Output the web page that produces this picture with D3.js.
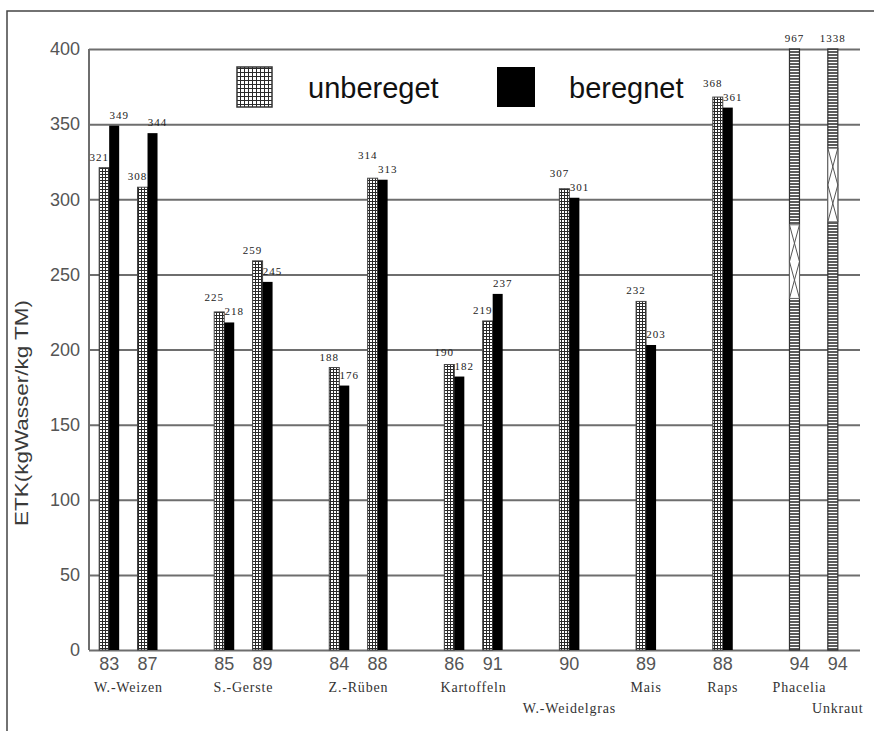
<!DOCTYPE html>
<html>
<head>
<meta charset="utf-8">
<script src="https://cdn.jsdelivr.net/npm/d3@7"></script>
<style>
  body { margin: 0; background: #fff; }
</style>
</head>
<body>
<div class="chart"></div>
<script>
// one entry per bar pair (year of trial + crop)
const years = ["83", "87", "85", "89", "84", "88", "86", "91", "90", "89", "88", "94", "94"];
const crops = ["W.-Weizen", "W.-Weizen", "S.-Gerste", "S.-Gerste", "Z.-Rüben", "Z.-Rüben",
  "Kartoffeln", "Kartoffeln", "W.-Weidelgras", "Mais", "Raps", "Phacelia", "Unkraut"];
const unberegnet = [321, 308, 225, 259, 188, 314, 190, 219, 307, 232, 368, 967, 1338];
const beregnet = [349, 344, 218, 245, 176, 313, 182, 237, 301, 203, 361, null, null];
const yTicks = [0, 50, 100, 150, 200, 250, 300, 350, 400];
const seriesNames = ["unbereget", "beregnet"];

const W = 874, H = 731;
const plot = { left: 89, right: 860, top: 49, bottom: 650 };
const yMax = 400;
// axis break drawn inside the bars that go off the scale
const breaks = { "Phacelia": [234, 283], "Unkraut": [285, 334] };

const svg = d3.select('.chart')
  .append('svg')
  .attr('width', W)
  .attr('height', H)
  .style('font-family', '"Liberation Sans", Arial, sans-serif');

const defs = svg.append('defs');

function gridPattern(id, cell) {
  const p = defs.append('pattern')
    .attr('id', id)
    .attr('patternUnits', 'userSpaceOnUse')
    .attr('width', cell).attr('height', cell);
  p.append('rect').attr('width', cell).attr('height', cell).attr('fill', '#fff');
  p.append('path')
    .attr('d', `M0,0.5H${cell}M0.5,0V${cell}`)
    .attr('stroke', '#2a2a2a').attr('stroke-width', 1);
}
gridPattern('grid', 3);
gridPattern('gridBig', 4);

const ladder = defs.append('pattern')
  .attr('id', 'ladder')
  .attr('patternUnits', 'userSpaceOnUse')
  .attr('width', 10).attr('height', 3);
ladder.append('rect').attr('width', 10).attr('height', 3).attr('fill', '#fff');
ladder.append('path').attr('d', 'M0,1H10').attr('stroke', '#333').attr('stroke-width', 1.6);

// outer frame (only top and left visible)
svg.append('path')
  .attr('d', `M7,${H}V11H${W}`)
  .attr('fill', 'none')
  .attr('stroke', '#444')
  .attr('stroke-width', 1.5);

const yScale = d3.scaleLinear()
  .domain([0, yMax])
  .range([plot.bottom, plot.top]);

// slots: a blank slot between crop groups (single bars sit side by side)
const slots = [];
years.forEach((yr, i) => {
  if (i > 0 && crops[i] !== crops[i - 1] && beregnet[i - 1] != null) slots.push('gap' + i);
  slots.push('s' + i);
});
const xScale = d3.scaleBand()
  .domain(slots)
  .range([90, 857]);
const center = i => xScale('s' + i) + xScale.bandwidth() / 2;
const bw = 10;

// gridlines + tick labels
const yAxis = d3.axisLeft(yScale)
  .tickValues(yTicks)
  .tickSize(-(plot.right - plot.left))
  .tickPadding(9);

const gy = svg.append('g')
  .attr('transform', `translate(${plot.left},0)`)
  .call(yAxis);
gy.select('.domain').remove();
gy.selectAll('.tick line')
  .attr('stroke', '#6e6e6e')
  .attr('stroke-width', 2);
gy.selectAll('.tick text')
  .attr('fill', '#555')
  .style('font-size', '18px')
  .style('font-family', '"Liberation Sans", Arial, sans-serif');

svg.append('line')
  .attr('x1', plot.left).attr('x2', plot.left)
  .attr('y1', plot.top).attr('y2', plot.bottom)
  .attr('stroke', '#6e6e6e')
  .attr('stroke-width', 2);

// y title
svg.append('text')
  .attr('transform', `translate(28,${(300 + 526) / 2}) rotate(-90)`)
  .attr('text-anchor', 'middle')
  .attr('textLength', 226)
  .attr('lengthAdjust', 'spacingAndGlyphs')
  .attr('fill', '#3a3a3a')
  .style('font-size', '19px')
  .text('ETK(kgWasser/kg TM)');

// bars
const bars = svg.append('g');
const labels = svg.append('g')
  .attr('fill', '#222')
  .style('font-family', '"Liberation Serif", "Times New Roman", serif')
  .style('font-size', '11px')
  .style('letter-spacing', '1px')
  .attr('text-anchor', 'middle');

years.forEach((yr, i) => {
  const c = center(i);
  const u = unberegnet[i], b = beregnet[i];

  if (b == null) {
    // off-scale single bar
    bars.append('rect')
      .attr('x', c - bw).attr('y', yScale(Math.min(u, yMax)))
      .attr('width', bw).attr('height', yScale(0) - yScale(Math.min(u, yMax)))
      .attr('fill', 'url(#ladder)')
      .attr('stroke', '#333').attr('stroke-width', 1.2);
    const br = breaks[crops[i]];
    if (br) {
      const y0 = yScale(br[1]), y1 = yScale(br[0]), ym = (y0 + y1) / 2;
      bars.append('rect')
        .attr('x', c - bw).attr('y', y0)
        .attr('width', bw).attr('height', y1 - y0)
        .attr('fill', '#fff').attr('stroke', '#666').attr('stroke-width', 1);
      bars.append('path')
        .attr('d', `M${c - bw},${y0}L${c},${ym}L${c - bw},${y1}M${c},${y0}L${c - bw},${ym}L${c},${y1}`)
        .attr('fill', 'none').attr('stroke', '#555').attr('stroke-width', 1);
    }
    labels.append('text')
      .attr('x', c - bw / 2).attr('y', yScale(yMax) - 7)
      .text(u);
    return;
  }

  bars.append('rect')
    .attr('x', c - bw).attr('y', yScale(u))
    .attr('width', bw).attr('height', yScale(0) - yScale(u))
    .attr('fill', 'url(#grid)')
    .attr('stroke', '#444').attr('stroke-width', 1);
  bars.append('rect')
    .attr('x', c).attr('y', yScale(b))
    .attr('width', bw).attr('height', yScale(0) - yScale(b))
    .attr('fill', '#000');

  // value labels, stacked when the two tops are close
  const lu = { x: c - bw / 2 - 5, y: yScale(u) - 7, v: u };
  const lb = { x: c + bw / 2 + 5, y: yScale(b) - 7, v: b };
  const [hi, lo] = u > b ? [lu, lb] : [lb, lu];
  if (lo.y - hi.y < 14) hi.y = lo.y - 14;
  [lu, lb].forEach(l => {
    labels.append('text').attr('x', l.x).attr('y', l.y).text(l.v);
  });
});

// year labels
svg.append('g')
  .selectAll('text')
  .data(years)
  .join('text')
  .attr('x', (d, i) => center(i))
  .attr('y', 670)
  .attr('text-anchor', 'middle')
  .attr('fill', '#555')
  .style('font-size', '18px')
  .text(d => d);

// crop names under each group, dropped a line when they would collide
const cropNames = Array.from(new Set(crops));
const cropG = svg.append('g')
  .style('font-family', '"Liberation Serif", "Times New Roman", serif')
  .style('font-size', '14px')
  .style('letter-spacing', '0.8px')
  .attr('fill', '#333')
  .attr('text-anchor', 'middle');
let lastRight = -Infinity;
cropNames.forEach(name => {
  const idx = crops.map((c, i) => c === name ? i : -1).filter(i => i >= 0);
  const cx = d3.mean(idx, i => center(i));
  const t = cropG.append('text').attr('x', cx).attr('y', 692).text(name);
  const w = t.node().getComputedTextLength();
  if (cx - w / 2 < lastRight + 20) {
    t.attr('y', 713);
  } else {
    lastRight = cx + w / 2;
  }
});

// legend
const legend = svg.append('g');
legend.append('rect')
  .attr('x', 237).attr('y', 67).attr('width', 35).attr('height', 40)
  .attr('fill', 'url(#gridBig)')
  .attr('stroke', '#333').attr('stroke-width', 1.5);
legend.append('rect')
  .attr('x', 497).attr('y', 67).attr('width', 38).attr('height', 40)
  .attr('fill', '#000');
legend.selectAll('text')
  .data(seriesNames)
  .join('text')
  .attr('x', (d, i) => i === 0 ? 308 : 569)
  .attr('y', 98)
  .attr('fill', '#111')
  .style('font-size', '29px')
  .text(d => d);
</script>
</body>
</html>
